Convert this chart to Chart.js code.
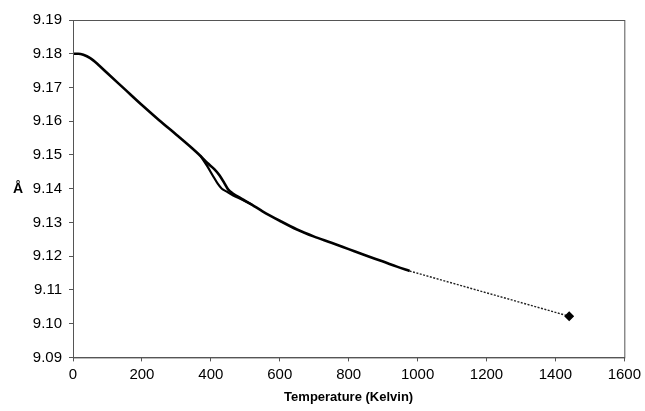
<!DOCTYPE html>
<html>
<head>
<meta charset="utf-8">
<script src="https://cdn.jsdelivr.net/npm/chart.js@4/dist/chart.umd.min.js"></script>
<style>
  html, body { margin: 0; padding: 0; background: #fff; }
  #wrap { width: 645px; height: 411px; position: relative; }
</style>
</head>
<body>
<div id="wrap"><canvas id="myChart" width="645" height="411"></canvas></div>
<script>
// heating run, 0 K up to the end of the measured data
const heatT = [0, 15, 30, 50, 75, 100, 150, 200, 250, 300, 340, 370, 390, 410, 425, 440, 450, 465, 490, 520,
    550, 600, 650, 700, 750, 800, 850, 900, 940, 977]
const heatA = [9.1800, 9.1800, 9.1797, 9.1787, 9.1766, 9.1742, 9.1695, 9.1648, 9.1603, 9.1560, 9.1525, 9.1497, 9.1476, 9.1458, 9.1440, 9.1415, 9.1398, 9.1385, 9.1370, 9.1352,
    9.1333, 9.1305, 9.1279, 9.1258, 9.1240, 9.1221, 9.1202, 9.1184, 9.1169, 9.1156]
// cooling branch (lower side of the loop)
const coolT = [520, 490, 465, 445, 432, 420, 405, 390, 370]
const coolA = [9.1352, 9.1368, 9.1380, 9.1392, 9.1400, 9.1415, 9.1440, 9.1466, 9.1497]
// extrapolated part
const extrapT = [977, 1440]
const extrapA = [9.1156, 9.1022]

const xTicks = [0, 200, 400, 600, 800, 1000, 1200, 1400, 1600]
const yMin = 9.09
const yMax = 9.19

const toPoints = (xs, ys) => xs.map((x, i) => ({ x: x, y: ys[i] }))
const fontFamily = '"Liberation Sans", Arial, sans-serif'

const frame = {
    id: 'frame',
    afterDraw(chart) {
        const c = chart.ctx
        const a = chart.chartArea
        c.save()
        c.strokeStyle = '#555'
        c.lineWidth = 1
        c.strokeRect(a.left + 0.5, a.top + 0.5, a.right - a.left, a.bottom - a.top)
        // y axis title, kept horizontal
        c.fillStyle = '#000'
        c.font = 'bold 14px ' + fontFamily
        c.textAlign = 'left'
        c.textBaseline = 'middle'
        c.fillText('Å', 13, chart.scales.y.getPixelForValue(9.14))
        c.restore()
    }
}

const ctx = document.getElementById('myChart').getContext('2d')
const chart = new Chart(ctx, {
    type: 'scatter',
    data: {
        datasets: [{
            data: toPoints(heatT, heatA),
            showLine: true,
            borderColor: '#000',
            borderWidth: 2.6,
            pointRadius: 0,
            cubicInterpolationMode: 'monotone'
        }, {
            data: toPoints(coolT, coolA),
            showLine: true,
            borderColor: '#000',
            borderWidth: 2.2,
            pointRadius: 0,
            cubicInterpolationMode: 'monotone'
        }, {
            data: toPoints(extrapT, extrapA),
            showLine: true,
            borderColor: '#222',
            borderWidth: 1.4,
            borderDash: [2, 1.5],
            pointStyle: 'rectRot',
            pointRadius: [0, 4],
            pointBackgroundColor: '#000',
            pointBorderColor: '#000'
        }]
    },
    options: {
        responsive: false,
        animation: false,
        layout: { padding: { left: 0, right: 18, top: 20, bottom: 6 } },
        plugins: { legend: { display: false }, tooltip: { enabled: false } },
        scales: {
            x: {
                type: 'linear',
                min: 0,
                max: 1600,
                afterBuildTicks: s => { s.ticks = xTicks.map(v => ({ value: v })) },
                grid: { display: true, drawOnChartArea: false, drawTicks: true, tickLength: 4, color: '#555' },
                border: { display: true, color: '#555' },
                ticks: {
                    color: '#000',
                    padding: 4,
                    maxRotation: 0,
                    callback: v => String(v),
                    font: { family: fontFamily, size: 15 }
                },
                title: {
                    display: true,
                    text: 'Temperature (Kelvin)',
                    color: '#000',
                    padding: { top: 2, bottom: 0 },
                    font: { family: fontFamily, size: 13, weight: 'bold' }
                }
            },
            y: {
                type: 'linear',
                min: yMin,
                max: yMax,
                afterFit: s => { s.width = 73 },
                ticks: {
                    stepSize: 0.01,
                    color: '#000',
                    padding: 7,
                    callback: v => v.toFixed(2),
                    font: { family: fontFamily, size: 15 }
                },
                grid: { display: true, drawOnChartArea: false, drawTicks: true, tickLength: 4, color: '#555' },
                border: { display: true, color: '#555' }
            }
        }
    },
    plugins: [frame]
})
</script>
</body>
</html>
